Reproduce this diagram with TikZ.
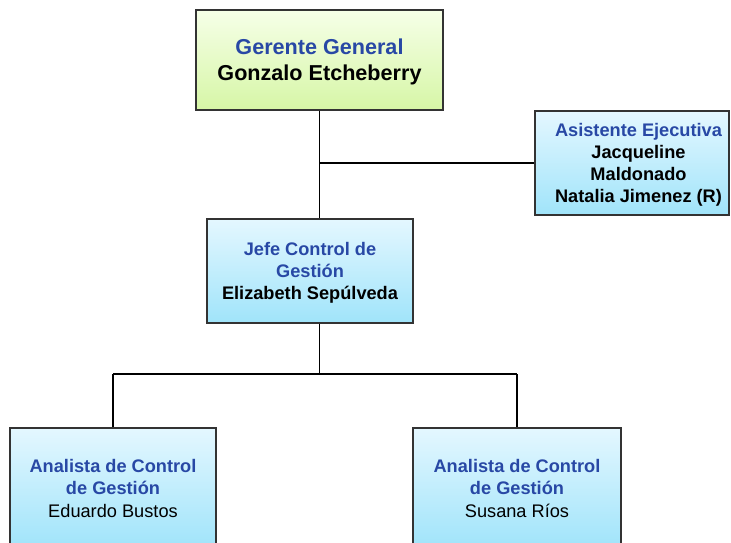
\documentclass[tikz,border=0pt]{standalone}
\usepackage{fontspec}
\setmainfont{Liberation Sans}
\definecolor{ttlblue}{RGB}{40,72,165}
\definecolor{btop}{RGB}{228,247,255}
\definecolor{bbot}{RGB}{160,228,250}
\definecolor{gtop}{RGB}{246,255,232}
\definecolor{gbot}{RGB}{214,246,166}
\newcommand{\padl}{\hspace*{13pt}}
\begin{document}
\begin{tikzpicture}[x=1pt,y=-1pt,
  box/.style={draw=black!80, line width=1.3pt, align=center, inner sep=0pt, text=black},
  bluebox/.style={box, top color=btop, bottom color=bbot},
  greenbox/.style={box, top color=gtop, bottom color=gbot},
  conn/.style={draw=black, line width=1.4pt}]
\useasboundingbox (0,0) rectangle (731,543);
\clip (0,0) rectangle (731,543);
\fill[white] (0,0) rectangle (731,543);
\node[greenbox, minimum width=247pt, minimum height=100pt,
  font=\fontsize{21.6}{26}\selectfont\bfseries] (gg) at (319.5,60)
  {\rule{0pt}{20pt}\color{ttlblue}Gerente General\\\color{black}Gonzalo Etcheberry};
\node[bluebox, minimum width=194pt, minimum height=104pt,
  font=\fontsize{18.2}{22}\selectfont\bfseries] (as) at (632,163)
  {\padl\rule{0pt}{17pt}\color{ttlblue}Asistente Ejecutiva\\\padl\color{black}Jacqueline\\\padl Maldonado\\\padl Natalia Jimenez (R)};
\node[bluebox, minimum width=206pt, minimum height=104pt,
  font=\fontsize{18.2}{22}\selectfont\bfseries] (jf) at (310,271)
  {\rule{0pt}{17pt}\color{ttlblue}Jefe Control de\\\color{ttlblue}Gestión\\\color{black}Elizabeth Sepúlveda};
\node[bluebox, minimum width=206pt, minimum height=120pt,
  font=\fontsize{18.2}{22.5}\selectfont] (al) at (113,488)
  {\bfseries\color{ttlblue}Analista de Control\\\bfseries\color{ttlblue}de Gestión\\Eduardo Bustos};
\node[bluebox, minimum width=208pt, minimum height=120pt,
  font=\fontsize{18.2}{22.5}\selectfont] (ar) at (517,488)
  {\bfseries\color{ttlblue}Analista de Control\\\bfseries\color{ttlblue}de Gestión\\Susana Ríos};
\coordinate (bus) at (319,374);
\draw[conn] (gg.south) -- (gg.south |- jf.north);
\draw[conn] (gg.south |- as.west) -- (as.west);
\draw[conn] (gg.south |- jf.south) -- (gg.south |- bus);
\draw[conn] (al.north |- bus) -- (ar.north |- bus);
\draw[conn] (al.north |- bus) -- (al.north);
\draw[conn] (ar.north |- bus) -- (ar.north);
\end{tikzpicture}
\end{document}
